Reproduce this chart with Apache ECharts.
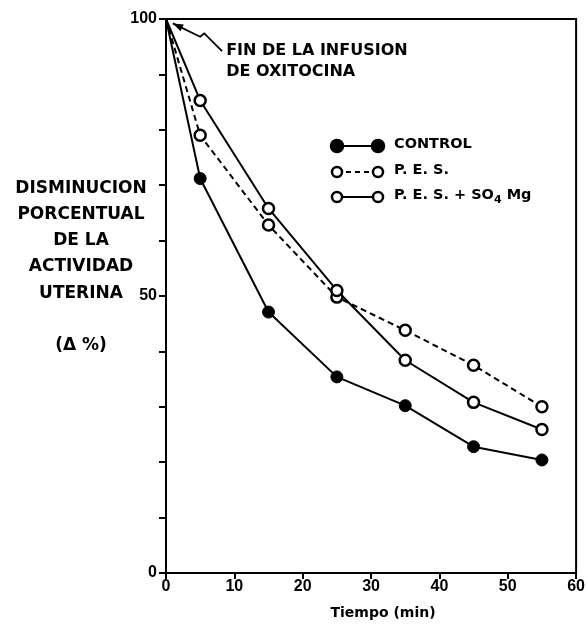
<!DOCTYPE html>
<html><head><meta charset="utf-8">
<script src="https://cdn.jsdelivr.net/npm/echarts@6/dist/echarts.min.js"></script>
<style>html,body{margin:0;padding:0;background:#fff}#c{width:588px;height:627px}</style>
</head><body><div id="c"></div>
<script>
const times = [0, 5, 15, 25, 35, 45, 55];
const control = [100, 71.2, 47.1, 35.4, 30.2, 22.8, 20.4];
const pes = [100, 79.0, 62.8, 49.8, 43.8, 37.5, 30.0];
const pesSO4 = [100, 85.3, 65.8, 51.0, 38.4, 30.8, 25.9];
const xTicks = [0, 10, 20, 30, 40, 50, 60];
const yLabelTicks = [0, 50, 100];
const legendNames = ['CONTROL', 'P. E. S.', 'P. E. S. + SO₄ Mg'];
const yTitle = ['DISMINUCION', 'PORCENTUAL', 'DE LA', 'ACTIVIDAD', 'UTERINA', '', '(Δ %)'];
const annotation = ['FIN DE LA INFUSION', 'DE OXITOCINA'];
const arrowPath = [[1.0, 99.2], [5.0, 96.8], [5.6, 97.4], [8.2, 94.2]];

const FONT = '"DejaVu Sans", "Liberation Sans", sans-serif';
const TFONT = '"Liberation Sans", Arial, sans-serif';
function pts(arr) { return times.map((t, i) => i === 0 ? {value: [t, arr[i]], symbol: 'none'} : [t, arr[i]]); }

const chart = echarts.init(document.getElementById('c'));
const option = {
  animation: false,
  grid: {left: 166, top: 19, width: 411, height: 554, show: true, borderColor: '#000', borderWidth: 2, backgroundColor: 'transparent'},
  xAxis: {
    type: 'value', min: 0, max: 60, interval: 10,
    axisLine: {lineStyle: {color: '#000', width: 2}},
    axisTick: {show: true, length: 6, lineStyle: {color: '#000', width: 2}},
    axisLabel: {color: '#000', fontSize: 16, fontWeight: 'bold', fontFamily: TFONT, margin: 6,
      formatter: v => xTicks.includes(v) ? String(v) : ''},
    splitLine: {show: false},
    name: 'Tiempo (min)', nameLocation: 'middle', nameGap: 33,
    nameTextStyle: {color: '#000', fontSize: 14, fontWeight: 'bold', fontFamily: FONT, padding: [0, 0, 0, 24]}
  },
  yAxis: {
    type: 'value', min: 0, max: 100, interval: 10,
    axisLine: {lineStyle: {color: '#000', width: 2}},
    axisTick: {show: true, length: 7, lineStyle: {color: '#000', width: 2}},
    axisLabel: {color: '#000', fontSize: 16, fontWeight: 'bold', fontFamily: TFONT, margin: 9,
      formatter: v => yLabelTicks.includes(v) ? String(v) : ''},
    splitLine: {show: false}
  },
  series: [
    {name: legendNames[0], type: 'line', data: pts(control), symbol: 'circle', symbolSize: 12,
      lineStyle: {color: '#000', width: 2}, itemStyle: {color: '#000', borderColor: '#000', borderWidth: 1}},
    {name: legendNames[1], type: 'line', data: pts(pes), symbol: 'circle', symbolSize: 11,
      lineStyle: {color: '#000', width: 2, type: [6, 4]}, itemStyle: {color: '#fff', borderColor: '#000', borderWidth: 2.5}},
    {name: legendNames[2], type: 'line', data: pts(pesSO4), symbol: 'circle', symbolSize: 11,
      lineStyle: {color: '#000', width: 2}, itemStyle: {color: '#fff', borderColor: '#000', borderWidth: 2.5}, z: 3}
  ]
};
chart.setOption(option);

const g = [];
const arrowPx = arrowPath.map(p => chart.convertToPixel({gridIndex: 0}, p));
g.push({type: 'polyline', shape: {points: arrowPx}, style: {stroke: '#000', lineWidth: 1.8, fill: null}, z: 10});
const h = arrowPx[0], nx = arrowPx[1];
const ang = Math.atan2(nx[1] - h[1], nx[0] - h[0]);
const L = 11, W = 0.35;
g.push({type: 'polygon', shape: {points: [h,
  [h[0] + L * Math.cos(ang + W), h[1] + L * Math.sin(ang + W)],
  [h[0] + L * Math.cos(ang - W), h[1] + L * Math.sin(ang - W)]]}, style: {fill: '#000'}, z: 10});
const annPos = chart.convertToPixel({gridIndex: 0}, [8.8, 94.2]);
g.push({type: 'text', x: annPos[0], y: annPos[1] - 11, style: {text: annotation.join('\n'), fontSize: 16, fontWeight: 'bold', fontFamily: FONT, fill: '#000', lineHeight: 21, textVerticalAlign: 'top'}, z: 10});

const legY = [146, 172, 197];
legendNames.forEach((n, i) => {
  const y = legY[i];
  g.push({type: 'line', shape: {x1: 337, y1: y, x2: 378, y2: y}, style: {stroke: '#000', lineWidth: 2, lineDash: i === 1 ? [5, 4] : null}, z: 10});
  [337, 378].forEach(cx => g.push({type: 'circle', shape: {cx: cx, cy: y, r: i === 0 ? 6 : 5}, style: {fill: i === 0 ? '#000' : '#fff', stroke: '#000', lineWidth: 2.5}, z: 11}));
  const rt = '{a|' + n.replace('₄', '}{s|4}{a|') + '}';
  g.push({type: 'text', x: 394, y: y - 9, style: {text: rt, fill: '#000',
    rich: {a: {fontSize: 14.5, fontWeight: 'bold', fontFamily: FONT, lineHeight: 18, verticalAlign: 'top'},
           s: {fontSize: 11, fontWeight: 'bold', fontFamily: FONT, lineHeight: 18, padding: [7, 0, 0, 0], verticalAlign: 'top'}}}, z: 10});
});

g.push({type: 'text', x: 81, y: 175, style: {text: yTitle.join('\n'), fontSize: 17, fontWeight: 'bold', fontFamily: FONT, fill: '#000', textAlign: 'center', lineHeight: 26.3, textVerticalAlign: 'top'}, z: 10});

chart.setOption({graphic: g});
</script>
</body></html>
